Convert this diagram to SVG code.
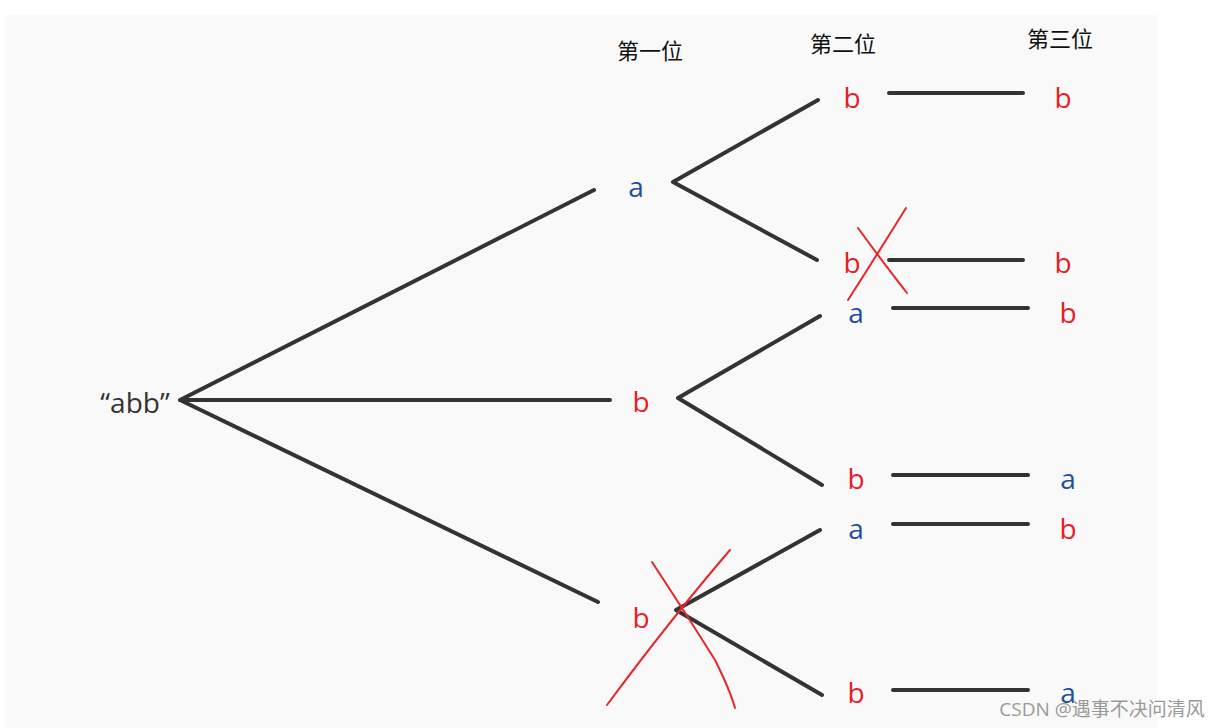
<svg xmlns="http://www.w3.org/2000/svg" width="1223" height="728" viewBox="0 0 1223 728">
<style>
.l{stroke:#333;stroke-width:4;fill:none;stroke-linecap:round}
.x{stroke:#e8262a;stroke-width:2;fill:none;stroke-linecap:round}
text{font-family:"Open Sans","Noto Sans","Noto Sans CJK SC",sans-serif;text-anchor:middle}
.r{fill:#e81c24;font-size:28px}
.b{fill:#1f4f9e;font-size:28px}
.h{fill:#111;font-size:22px}
</style>
<rect width="1223" height="728" fill="#fff"/>
<rect x="5" y="15" width="1152" height="713" fill="#f9f9f9"/>
<g id="connectors">
<path class="l" d="M180 400L594 190M180 400H610M180 400L598 602M673 182L818 100M673 182L817 260M678 398L820 316M678 398L822 485M676 610L820 530M676 610L822 695M889 93H1023M889 260H1023M893 308H1028M893 475H1028M893 524H1028M893 690H1028"/>
</g>
<g id="headers"><text class="h" x="650" y="59">第一位</text><text class="h" x="843" y="52">第二位</text><text class="h" x="1060" y="47">第三位</text></g>
<g id="root"><text x="135" y="413" font-size="28" fill="#333">“abb”</text></g>
<g id="n1"><text class="b" x="636" y="197">a</text></g>
<g id="n2"><text class="r" x="641" y="412">b</text></g>
<g id="n3"><text class="r" x="641" y="628">b</text></g>
<g id="n4"><text class="r" x="852" y="108">b</text></g>
<g id="n5"><text class="r" x="852" y="273">b</text></g>
<g id="n6"><text class="b" x="856" y="323">a</text></g>
<g id="n7"><text class="r" x="856" y="489">b</text></g>
<g id="n8"><text class="b" x="856" y="539">a</text></g>
<g id="n9"><text class="r" x="856" y="703">b</text></g>
<g id="n10"><text class="r" x="1063" y="108">b</text></g>
<g id="n11"><text class="r" x="1063" y="273">b</text></g>
<g id="n12"><text class="r" x="1068" y="323">b</text></g>
<g id="n13"><text class="b" x="1068" y="489">a</text></g>
<g id="n14"><text class="r" x="1068" y="539">b</text></g>
<g id="n15"><text class="b" x="1068" y="703">a</text></g>
<g id="crosses">
<path class="x" d="M848 300Q880 250 906 208M858 228Q885 265 907 293"/>
<path class="x" d="M607 705Q670 620 730 550M652 562Q690 620 715 660Q730 690 735 708"/>
</g>
<text x="1102" y="716" font-size="19" fill="#999" font-family="Liberation Sans,Noto Sans CJK SC,sans-serif">CSDN @遇事不决问清风</text>
</svg>
